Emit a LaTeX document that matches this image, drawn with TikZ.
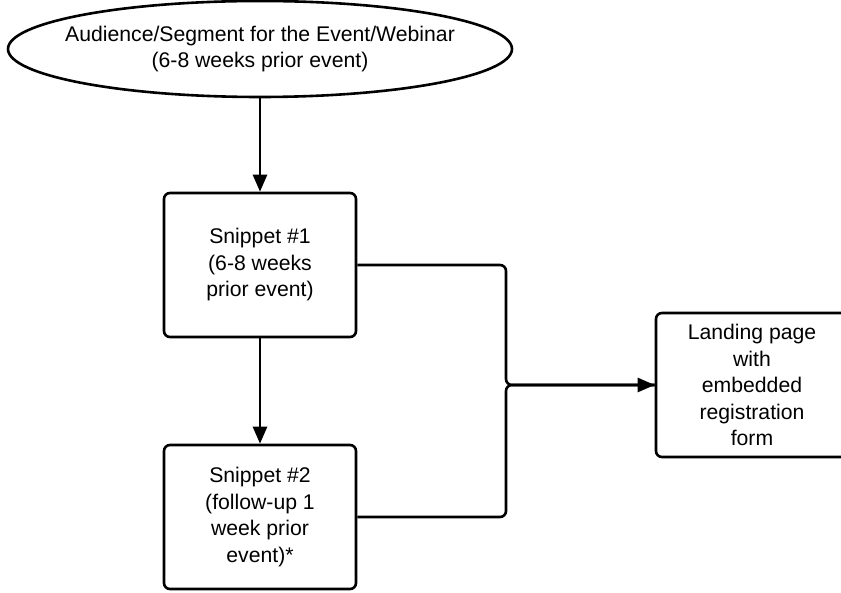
\documentclass[tikz,border=0pt]{standalone}
\usepackage{fontspec}
\setmainfont{Liberation Sans}
\usetikzlibrary{arrows.meta,shapes.geometric}
\begin{document}
\begin{tikzpicture}[x=1pt,y=1pt,
  every node/.style={font=\fontsize{21.2}{26.5}\selectfont, align=center, inner sep=0pt},
  shapebox/.style={draw, line width=2.6pt, rounded corners=6pt, minimum width=192pt, minimum height=144pt},
  oval/.style={draw, ellipse, line width=2.6pt, minimum width=504pt, minimum height=96pt},
  conn/.style={line width=2.6pt, -{Triangle[length=17pt,width=14pt]}},
  link/.style={line width=2.6pt, rounded corners=6pt}]
\useasboundingbox (0,0) rectangle (841,592);
\clip (0,0) rectangle (841,592);
\node[oval] (top) at (260,543) {};
\node (toptext) at (top) {Audience/Segment for the Event/Webinar\\(6-8 weeks prior event)};
\node[shapebox] (b1) at (260,327) {Snippet \#1\\(6-8 weeks\\prior event)};
\node[shapebox] (b2) at (260,75) {Snippet \#2\\(follow-up 1\\week prior\\event)*};
\node[shapebox] (land) at (752,207) {Landing page\\with\\embedded\\registration\\form};
\coordinate (j) at (506,207);
\draw[conn] (top) -- (b1);
\draw[conn] (b1) -- (b2);
\draw[link] (b1.east) -| (j) -- (land.west);
\draw[link] (b2.east) -| (j) -- (land.west);
\draw[conn] ([xshift=-20pt]land.west) -- (land.west);
\end{tikzpicture}
\end{document}
